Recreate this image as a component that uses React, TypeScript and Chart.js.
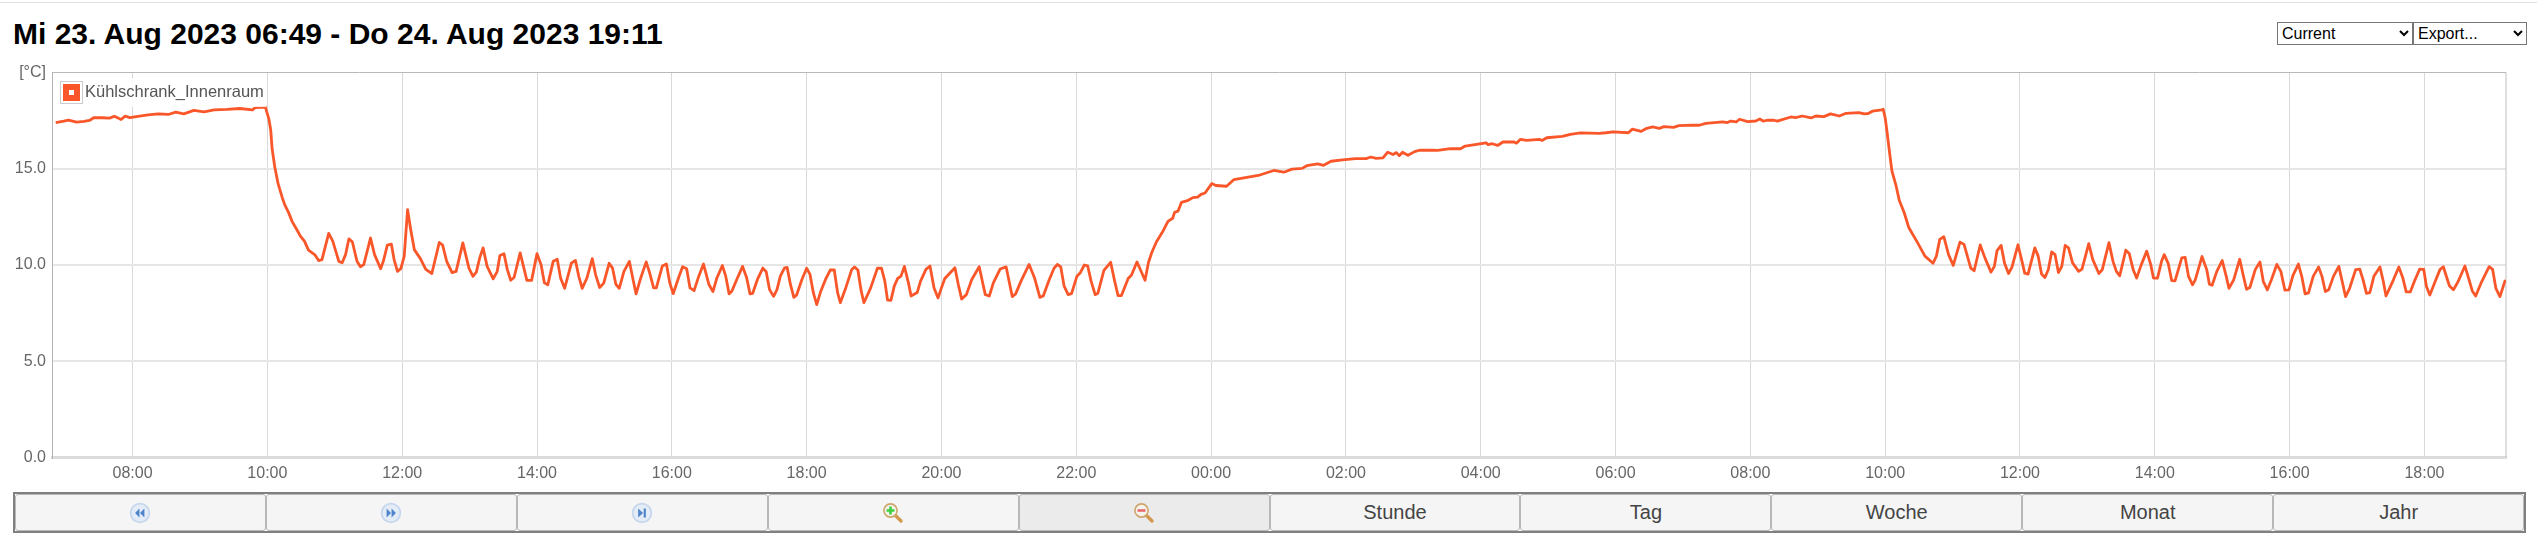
import { useEffect, useRef } from 'react'
import { Chart, registerables, type ChartConfiguration } from 'chart.js'

Chart.register(...registerables)

// hours since 23 Aug 00:00
const warmMorningHours = [6.86, 6.98, 7.05, 7.17, 7.28, 7.36, 7.43, 7.55, 7.66, 7.73, 7.83, 7.89, 7.96, 8.08, 8.23, 8.38, 8.53, 8.64, 8.76, 8.91, 9.06, 9.21, 9.40, 9.59, 9.78, 9.82, 9.97]
const warmMorningTemps = [17.40, 17.47, 17.53, 17.42, 17.46, 17.51, 17.66, 17.65, 17.63, 17.73, 17.56, 17.73, 17.66, 17.72, 17.80, 17.85, 17.82, 17.94, 17.85, 18.03, 17.96, 18.06, 18.08, 18.13, 18.06, 18.18, 18.20]

const firstCycleHours = [
  10.02, 10.05, 10.07, 10.11, 10.16, 10.22, 10.26, 10.31, 10.37, 10.44, 10.49, 10.55, 10.61, 10.71, 10.76, 10.81, 10.91, 10.97, 11.06, 11.11,
  11.16, 11.21, 11.26, 11.33, 11.38, 11.43, 11.53, 11.59, 11.68, 11.72, 11.78, 11.84, 11.88, 11.93, 11.98, 12.03, 12.08, 12.13, 12.18, 12.27,
  12.35, 12.44, 12.55, 12.60, 12.66, 12.74, 12.80, 12.90, 12.99, 13.05, 13.10, 13.15, 13.20, 13.26, 13.35, 13.41, 13.45, 13.51, 13.56, 13.61,
  13.66, 13.75, 13.85, 13.92, 14.00, 14.06, 14.11, 14.16, 14.24, 14.30, 14.35, 14.41, 14.51, 14.57, 14.62, 14.67, 14.74, 14.82, 14.87, 14.93,
  14.99, 15.07, 15.12, 15.17, 15.22, 15.29, 15.37, 15.43, 15.47, 15.54, 15.62, 15.67, 15.73, 15.77, 15.86, 15.92, 15.97, 16.02, 16.10, 16.16,
  16.22, 16.27, 16.33, 16.40, 16.47, 16.55, 16.61, 16.67, 16.75, 16.80, 16.85, 16.89, 16.97, 17.05, 17.11, 17.16, 17.20, 17.27, 17.35, 17.40,
  17.45, 17.51, 17.56, 17.61, 17.67, 17.71, 17.76, 17.81, 17.85, 17.93, 18.00, 18.05, 18.10, 18.15, 18.21, 18.28, 18.35, 18.41, 18.46, 18.50,
  18.58, 18.67, 18.71, 18.76, 18.81, 18.85, 18.95, 19.05, 19.11, 19.16, 19.20, 19.25, 19.30, 19.35, 19.40, 19.45, 19.51, 19.55, 19.64, 19.69,
  19.77, 19.83, 19.89, 19.95, 20.00, 20.05, 20.20, 20.25, 20.30, 20.37, 20.45, 20.56, 20.65, 20.71, 20.77, 20.87, 20.96, 21.05, 21.10, 21.18,
  21.30, 21.38, 21.46, 21.51, 21.60, 21.67, 21.72, 21.77, 21.82, 21.88, 21.93, 22.01, 22.06, 22.12, 22.17, 22.22, 22.28, 22.32, 22.41, 22.51,
  22.57, 22.62, 22.67, 22.77, 22.82, 22.90, 22.96, 23.02,
]
const firstCycleTemps = [
  17.62, 17.01, 16.05, 15.09, 14.21, 13.51, 13.11, 12.76, 12.24, 11.82, 11.50, 11.24, 10.77, 10.51, 10.23, 10.28, 11.64, 11.24, 10.19, 10.12,
  10.54, 11.36, 11.21, 10.19, 9.91, 10.02, 11.40, 10.54, 9.81, 10.19, 11.03, 11.08, 10.28, 9.67, 9.81, 10.45, 12.87, 11.77, 10.80, 10.33,
  9.77, 9.56, 11.17, 11.03, 10.19, 9.60, 9.67, 11.15, 9.84, 9.41, 9.63, 10.37, 10.89, 9.93, 9.28, 9.67, 10.49, 10.59, 9.76, 9.21,
  9.35, 10.63, 9.20, 9.20, 10.59, 10.02, 9.07, 8.97, 10.19, 10.30, 9.32, 8.79, 10.10, 10.24, 9.41, 8.79, 9.32, 10.33, 9.49, 8.83,
  9.06, 10.09, 9.84, 9.00, 8.79, 9.67, 10.19, 9.16, 8.50, 9.34, 10.16, 9.60, 8.81, 8.81, 9.95, 10.05, 9.07, 8.51, 9.34, 9.91,
  9.81, 8.81, 8.67, 9.42, 10.05, 8.99, 8.62, 9.34, 9.97, 9.42, 8.50, 8.64, 9.30, 9.93, 9.34, 8.50, 8.53, 9.25, 9.84, 9.65,
  8.72, 8.37, 8.72, 9.42, 9.84, 9.88, 8.99, 8.32, 8.43, 9.25, 9.83, 9.51, 8.55, 7.94, 8.64, 9.25, 9.74, 9.74, 8.55, 8.04,
  8.81, 9.77, 9.90, 9.74, 8.64, 8.04, 8.81, 9.83, 9.84, 9.16, 8.18, 8.16, 8.90, 9.30, 9.42, 9.93, 9.07, 8.39, 8.57, 9.16,
  9.77, 9.95, 8.81, 8.29, 8.81, 9.30, 9.86, 8.99, 8.23, 8.46, 9.25, 9.91, 8.46, 8.39, 9.07, 9.79, 9.90, 8.36, 8.50, 9.16,
  10.03, 9.34, 8.32, 8.39, 9.25, 9.83, 10.03, 9.90, 8.90, 8.46, 8.51, 9.42, 9.60, 10.00, 9.95, 9.16, 8.46, 8.53, 9.72, 10.14,
  9.16, 8.41, 8.41, 9.30, 9.48, 10.16, 9.69, 9.21,
]

const warmingHours = [
  23.07, 23.12, 23.19, 23.29, 23.36, 23.43, 23.46, 23.51, 23.56, 23.66, 23.73, 23.80, 23.85, 23.91, 24.01, 24.07, 24.23, 24.34, 24.55, 24.70,
  24.93, 25.08, 25.20, 25.35, 25.42, 25.58, 25.67, 25.78, 25.95, 26.14, 26.30, 26.37, 26.45, 26.55, 26.62, 26.70, 26.75, 26.79, 26.84, 26.92,
  27.02, 27.09, 27.28, 27.36, 27.55, 27.70, 27.77, 28.08, 28.11, 28.17, 28.25, 28.33, 28.49, 28.53, 28.59, 28.68, 28.87, 28.91, 28.98, 29.21,
  29.33, 29.48, 29.76, 29.86, 29.96, 30.19, 30.25, 30.38, 30.45, 30.55, 30.65, 30.72, 30.86, 30.94, 31.14, 31.24, 31.34, 31.59, 31.66, 31.71,
  31.79, 31.84, 31.96, 32.08, 32.14, 32.19, 32.25, 32.35, 32.40, 32.60, 32.67, 32.77, 32.90, 32.97, 33.09, 33.19, 33.32, 33.42, 33.61, 33.69,
  33.75, 33.81, 33.95,
]
const warmingTemps = [
  10.12, 10.65, 11.21, 11.78, 12.27, 12.43, 12.74, 12.80, 13.25, 13.36, 13.50, 13.53, 13.67, 13.74, 14.23, 14.13, 14.09, 14.44, 14.56, 14.65,
  14.91, 14.82, 14.98, 15.02, 15.16, 15.25, 15.18, 15.39, 15.46, 15.53, 15.53, 15.61, 15.54, 15.56, 15.86, 15.74, 15.84, 15.68, 15.86, 15.70,
  15.89, 15.96, 15.96, 15.95, 16.04, 16.04, 16.18, 16.35, 16.25, 16.30, 16.21, 16.39, 16.40, 16.33, 16.53, 16.47, 16.53, 16.47, 16.61, 16.68,
  16.79, 16.86, 16.84, 16.87, 16.92, 16.87, 17.06, 16.94, 17.08, 17.17, 17.10, 17.19, 17.15, 17.24, 17.27, 17.26, 17.36, 17.43, 17.40, 17.48,
  17.43, 17.57, 17.45, 17.48, 17.59, 17.47, 17.52, 17.52, 17.47, 17.69, 17.66, 17.74, 17.64, 17.74, 17.71, 17.85, 17.74, 17.88, 17.92, 17.85,
  17.87, 17.99, 18.06,
]

const secondCycleHours = [
  33.97, 34.00, 34.03, 34.06, 34.10, 34.16, 34.21, 34.28, 34.35, 34.48, 34.59, 34.71, 34.76, 34.81, 34.87, 34.94, 35.01, 35.11, 35.17, 35.27,
  35.32, 35.41, 35.48, 35.57, 35.62, 35.66, 35.72, 35.77, 35.83, 35.88, 35.97, 36.03, 36.07, 36.12, 36.22, 36.27, 36.32, 36.37, 36.42, 36.47,
  36.52, 36.57, 36.62, 36.67, 36.72, 36.78, 36.87, 36.92, 37.02, 37.08, 37.17, 37.22, 37.32, 37.38, 37.43, 37.48, 37.57, 37.62, 37.68, 37.73,
  37.80, 37.88, 37.94, 37.98, 38.04, 38.10, 38.14, 38.20, 38.25, 38.30, 38.40, 38.45, 38.50, 38.56, 38.60, 38.70, 38.77, 38.81, 38.85, 38.92,
  39.00, 39.06, 39.10, 39.17, 39.26, 39.31, 39.36, 39.41, 39.49, 39.56, 39.61, 39.67, 39.73, 39.81, 39.87, 39.93, 39.99, 40.05, 40.13, 40.18,
  40.23, 40.28, 40.35, 40.43, 40.48, 40.53, 40.58, 40.65, 40.73, 40.78, 40.83, 40.89, 40.98, 41.04, 41.09, 41.14, 41.19, 41.25, 41.34, 41.39,
  41.43, 41.54, 41.62, 41.68, 41.73, 41.79, 41.86, 41.93, 41.99, 42.03, 42.08, 42.15, 42.23, 42.28, 42.37, 42.43, 42.50, 42.60, 42.67, 42.71,
  42.76, 42.85, 42.96, 43.01, 43.06, 43.12, 43.20,
]
const secondCycleTemps = [
  18.09, 17.65, 16.86, 15.98, 14.89, 14.14, 13.35, 12.74, 11.95, 11.16, 10.46, 10.09, 10.46, 11.33, 11.47, 10.54, 9.98, 11.19, 11.07, 9.84,
  9.70, 11.04, 10.37, 9.63, 9.93, 10.75, 11.02, 10.11, 9.56, 9.88, 11.05, 10.19, 9.58, 9.53, 10.89, 10.46, 9.53, 9.35, 9.75, 10.68,
  10.54, 9.61, 9.93, 11.02, 10.89, 10.11, 9.67, 9.79, 11.11, 10.28, 9.56, 9.75, 11.16, 10.19, 9.67, 9.44, 10.77, 10.60, 9.75, 9.32,
  10.02, 10.72, 10.02, 9.32, 9.32, 10.19, 10.54, 10.07, 9.19, 9.18, 10.37, 10.40, 9.41, 8.97, 9.23, 10.44, 9.76, 9.00, 8.95, 9.67,
  10.23, 9.41, 8.79, 9.23, 10.30, 9.49, 8.74, 8.83, 9.76, 10.16, 9.14, 8.71, 9.23, 10.03, 9.67, 8.69, 8.71, 9.46, 10.05, 9.41,
  8.50, 8.55, 9.41, 9.90, 9.41, 8.62, 8.71, 9.41, 9.93, 9.14, 8.36, 8.79, 9.76, 9.79, 9.23, 8.53, 8.57, 9.41, 9.90, 9.14,
  8.39, 9.23, 9.90, 9.32, 8.60, 8.60, 9.23, 9.79, 9.77, 8.88, 8.44, 9.06, 9.76, 9.91, 8.92, 8.71, 9.14, 9.95, 9.14, 8.65,
  8.39, 9.14, 9.91, 9.79, 8.79, 8.36, 9.23,
]

const hours = [...warmMorningHours, ...firstCycleHours, ...warmingHours, ...secondCycleHours]
const temps = [...warmMorningTemps, ...firstCycleTemps, ...warmingTemps, ...secondCycleTemps]

const tickHours = [8, 10, 12, 14, 16, 18, 20, 22, 24, 26, 28, 30, 32, 34, 36, 38, 40, 42]
const seriesName = 'Kühlschrank_Innenraum'
const rangeTitle = 'Mi 23. Aug 2023 06:49 - Do 24. Aug 2023 19:11'
const textButtons = ['Stunde', 'Tag', 'Woche', 'Monat', 'Jahr']
const LINE = '#F9572A'

const frame = {
  id: 'frame',
  beforeDatasetsDraw(chart: Chart) {
    const { ctx, chartArea } = chart
    ctx.save()
    ctx.strokeStyle = '#c0c0c0'
    ctx.lineWidth = 1
    ctx.beginPath()
    ctx.moveTo(chartArea.right, chartArea.top)
    ctx.lineTo(chartArea.right, chartArea.bottom)
    ctx.stroke()
    ctx.restore()
  },
}

function TempChart() {
  const ref = useRef<HTMLCanvasElement>(null)

  useEffect(() => {
    if (!ref.current) return
    const chart = new Chart(ref.current, {
      type: 'line',
      data: {
        datasets: [{
          label: seriesName,
          data: hours.map((h, i) => ({ x: h, y: temps[i] })),
          borderColor: LINE,
          borderWidth: 2.8,
          pointRadius: 0,
          tension: 0,
          borderJoinStyle: 'round',
        }],
      },
      options: {
        animation: false,
        responsive: false,
        layout: { padding: { top: 72.5, right: 31, left: 0, bottom: 0 } },
        plugins: { legend: { display: false }, tooltip: { enabled: false } },
        scales: {
          x: {
            type: 'linear',
            min: 6.805,
            max: 43.21,
            afterFit: (s: any) => { s.height = 32.5 },
            afterBuildTicks: (s: any) => { s.ticks = tickHours.map(value => ({ value })) },
            border: { color: '#dcdcdc', width: 3 },
            grid: { color: '#d9d9d9', lineWidth: 1, drawTicks: false },
            ticks: {
              autoSkip: false,
              maxRotation: 0,
              padding: 6,
              color: '#666',
              font: { family: 'Liberation Sans', size: 16 },
              callback: (v: any) => `${String(Number(v) % 24).padStart(2, '0')}:00`,
            },
          },
          y: {
            min: 0,
            max: 20,
            afterFit: (s: any) => { s.width = 52 },
            border: { color: '#b4b4b4', width: 1 },
            grid: {
              drawTicks: false,
              color: (c: any) => (c.tick.value === 20 ? '#b8b8b8' : '#e6e6e6'),
              lineWidth: (c: any) => (c.tick.value === 20 ? 1 : 2),
            },
            ticks: {
              stepSize: 5,
              padding: 6,
              color: '#666',
              font: { family: 'Liberation Sans', size: 16 },
              callback: (v: any) => (v === 20 ? '[°C]' : Number(v).toFixed(1)),
            },
          },
        },
      },
      plugins: [frame],
    } as ChartConfiguration)
    return () => chart.destroy()
  }, [])

  return <canvas ref={ref} width={2537} height={490} style={{ position: 'absolute', left: 0, top: 0, display: 'block' }} />
}

function NavIcon({ kind }: { kind: 'back' | 'forward' | 'end' }) {
  return (
    <svg width="22" height="22" viewBox="0 0 20 20">
      <circle cx="10" cy="10" r="8.5" fill="#e4ecf7" stroke="#c6d6ec" strokeWidth="1.6" />
      {kind === 'back' && <path d="M9.5 6v8L5.5 10zM14 6v8l-4-4z" fill="#4f84cc" />}
      {kind === 'forward' && <path d="M6 6v8l4-4zM10.5 6v8l4-4z" fill="#4f84cc" />}
      {kind === 'end' && <path d="M6.5 6v8l4.5-4zM11.5 6h2v8h-2z" fill="#4f84cc" />}
    </svg>
  )
}

function ZoomIcon({ plus }: { plus: boolean }) {
  const mark = plus ? '#3fce3f' : '#e86a6a'
  return (
    <svg width="22" height="22" viewBox="0 0 22 22">
      <path d="M13 13l6 6" stroke="#d29a4e" strokeWidth="3.4" strokeLinecap="round" />
      <circle cx="8.5" cy="8.5" r="6.6" fill="#f4f4ee" stroke="#cfa56a" strokeWidth="1.6" />
      <path d={plus ? 'M4.5 8.5h8M8.5 4.5v8' : 'M4.5 8.5h8'} stroke={mark} strokeWidth="2.6" />
    </svg>
  )
}

export default function App() {
  const icons = [
    <NavIcon kind="back" />,
    <NavIcon kind="forward" />,
    <NavIcon kind="end" />,
    <ZoomIcon plus />,
    <ZoomIcon plus={false} />,
  ]
  const cells = [...icons, ...textButtons]

  return (
    <>
      <style>{`
        html, body { margin: 0; background: #fff; }
        .page { position: relative; width: 2537px; height: 538px; overflow: hidden; font-family: 'Liberation Sans', Arial, sans-serif; }
        .topline { position: absolute; left: 0; right: 0; top: 2px; height: 1px; background: #e0e0e0; }
        .title { position: absolute; left: 13px; top: 18px; margin: 0; font-size: 30px; line-height: 32px; font-weight: 700; color: #000; white-space: nowrap; }
        .pick { position: absolute; top: 22px; height: 23px; font: 16px 'Liberation Sans', Arial, sans-serif; background: #fff; color: #000; border: 1px solid #767676; padding: 0; }
        .legend { position: absolute; left: 58px; top: 78px; width: 208px; height: 29px; background: rgba(255,255,255,0.85); }
        .swatch { position: absolute; left: 3px; top: 4px; width: 17px; height: 17px; background: ${LINE}; border: 2px solid #fff; outline: 1px solid #ccc; box-sizing: content-box; }
        .swatch i { position: absolute; left: 6px; top: 6px; width: 5px; height: 5px; background: #fff; }
        .legend span { position: absolute; left: 27px; top: 2px; font-size: 16.5px; line-height: 22px; color: #555; white-space: nowrap; }
        .bar { position: absolute; left: 13px; top: 492px; width: 2513px; height: 41px; box-sizing: border-box; border: 2px solid #808080; display: flex; }
        .cell { flex: 1 1 0; display: flex; align-items: center; justify-content: center; background: #f5f5f5; border: 1px solid #b8b8b8; border-radius: 3px; font-size: 20px; color: #444; }
        .cell.on { background: #ebebeb; }
      `}</style>
      <div className="page">
        <div className="topline" />
        <h1 className="title">{rangeTitle}</h1>
        <select className="pick" style={{ left: 2277, width: 136 }} defaultValue="Current"><option>Current</option></select>
        <select className="pick" style={{ left: 2413, width: 114 }} defaultValue="Export..."><option>Export...</option></select>
        <TempChart />
        <div className="legend">
          <div className="swatch"><i /></div>
          <span>{seriesName}</span>
        </div>
        <div className="bar">
          {cells.map((c, i) => (
            <div key={i} className={i === 4 ? 'cell on' : 'cell'}>{c}</div>
          ))}
        </div>
      </div>
    </>
  )
}
